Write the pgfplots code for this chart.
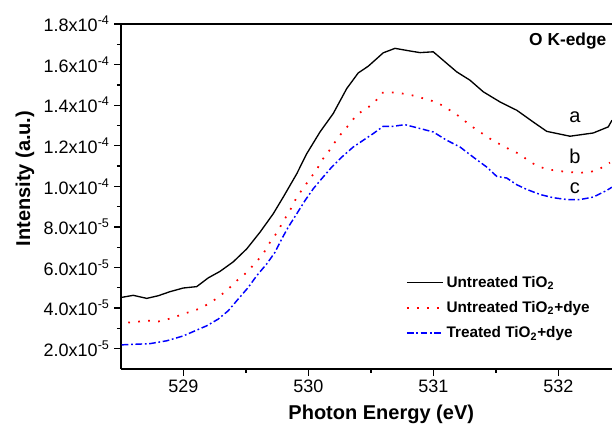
\documentclass[border=0pt]{standalone}
\usepackage{fontspec}
\setmainfont{Liberation Sans}
\usepackage{pgfplots}
\usepackage{pgfplotstable}
\pgfplotsset{compat=1.18}

% Intensity in units of 1e-5 a.u.
\pgfplotstableread{
E I
528.506 4.53
528.598 4.63
528.706 4.48
528.798 4.61
528.892 4.81
528.998 4.99
529.106 5.06
529.198 5.49
529.292 5.81
529.398 6.28
529.506 6.92
529.612 7.74
529.718 8.65
529.798 9.47
529.906 10.62
529.986 11.61
530.092 12.68
530.198 13.59
530.306 14.82
530.398 15.59
530.478 15.92
530.598 16.58
530.692 16.80
530.812 16.67
530.892 16.59
530.998 16.63
531.186 15.64
531.292 15.23
531.398 14.66
531.532 14.16
531.666 13.75
531.798 13.17
531.906 12.71
532.092 12.47
532.278 12.63
532.398 12.93
532.428 13.26
}\dataA

\pgfplotstableread{
E I
528.558 3.29
528.652 3.34
528.732 3.38
528.798 3.34
528.878 3.46
528.958 3.62
529.038 3.79
529.118 3.95
529.198 4.20
529.278 4.53
529.358 4.94
529.426 5.35
529.506 5.76
529.572 6.21
529.638 6.67
529.678 7.12
529.732 7.58
529.780 8.07
529.826 8.56
529.866 8.97
529.906 9.47
529.958 9.91
530.012 10.38
530.066 10.82
530.106 11.28
530.158 11.69
530.212 12.18
530.266 12.63
530.332 13.09
530.386 13.54
530.466 13.84
530.532 14.16
530.586 14.61
530.666 14.63
530.746 14.58
530.826 14.49
530.892 14.38
530.972 14.25
531.052 14.05
531.132 13.75
531.212 13.42
531.292 13.01
531.372 12.68
531.452 12.35
531.532 12.07
531.612 11.81
531.692 11.58
531.772 11.20
531.852 10.95
531.932 10.82
532.012 10.75
532.092 10.70
532.172 10.67
532.252 10.70
532.332 10.87
532.412 11.17
}\dataB

\pgfplotstableread{
E I
528.506 2.19
528.732 2.25
528.866 2.39
528.998 2.63
529.092 2.88
529.186 3.13
529.278 3.46
529.358 3.87
529.438 4.45
529.518 5.02
529.586 5.60
529.666 6.18
529.732 6.75
529.786 7.41
529.838 7.99
529.906 8.65
529.972 9.30
530.038 9.88
530.106 10.38
530.186 10.95
530.266 11.44
530.358 11.94
530.438 12.27
530.518 12.60
530.598 12.96
530.678 12.96
530.772 13.04
530.892 12.85
530.998 12.68
531.106 12.27
531.212 11.94
531.318 11.44
531.426 10.95
531.506 10.49
531.586 10.41
531.666 10.08
531.746 9.85
531.852 9.60
531.958 9.44
532.066 9.35
532.172 9.35
532.278 9.47
532.386 9.80
532.428 9.96
}\dataC

\begin{document}
\begin{tikzpicture}
\begin{axis}[
  name=ax,
  scale only axis,
  width=368.25pt, height=258.75pt,
  xmin=528.5, xmax=532.428,
  ymin=1, ymax=18,
  axis x line*=box, axis y line*=left,
  xtick={529,530,531,532}, xtick pos=bottom,
  minor x tick num=1,
  ytick={2,4,6,8,10,12,14,16,18},
  yticklabels={2.0x10\textsuperscript{-5}, 4.0x10\textsuperscript{-5}, 6.0x10\textsuperscript{-5}, 8.0x10\textsuperscript{-5}, 1.0x10\textsuperscript{-4}, 1.2x10\textsuperscript{-4}, 1.4x10\textsuperscript{-4}, 1.6x10\textsuperscript{-4}, 1.8x10\textsuperscript{-4}},
  minor y tick num=1,
  ytick pos=left,
  tick align=outside,
  major tick length=5pt, minor tick length=3pt,
  every tick/.style={black, line width=1pt},
  axis line style={line width=1.2pt},
  tick label style={font=\fontsize{13.5}{15}\selectfont},
  /pgf/number format/assume math mode=true,
  /pgf/number format/1000 sep={},
  xlabel={Photon Energy (eV)},
  xlabel style={at={(axis description cs:0.53,-0.147)}, anchor=base, font=\bfseries\fontsize{15}{17}\selectfont},
  ylabel={Intensity (a.u.)},
  ylabel style={at={(axis description cs:-0.1853,0.552)}, anchor=base, font=\bfseries\fontsize{15}{17}\selectfont},
  legend style={draw=none, fill=none, at={(0.572,0.285)}, anchor=north west,
    font=\bfseries\fontsize{11.5}{13}\selectfont, row sep=5pt},
  legend cell align=left,
  legend image code/.code={\draw[#1] (0cm,0cm) -- (0.95cm,0cm);},
]
\addplot[black, line width=1pt] table[x=E,y=I] {\dataA};
\addlegendentry{Untreated TiO\textsubscript{2}}
\addplot[red, line width=1.3pt, dash pattern=on 1.3pt off 6.2pt] table[x=E,y=I] {\dataB};
\addlegendentry{Untreated TiO\textsubscript{2}+dye}
\addplot[blue, line width=1.1pt, dash pattern=on 5pt off 2pt on 1.3pt off 2pt] table[x=E,y=I] {\dataC};
\addlegendentry{Treated TiO\textsubscript{2}+dye}
\node[font=\fontsize{15}{17}\selectfont] at (axis cs:532.132,13.41) {a};
\node[font=\fontsize{15}{17}\selectfont] at (axis cs:532.132,11.48) {b};
\node[font=\fontsize{15}{17}\selectfont] at (axis cs:532.132,9.90) {c};
\node[anchor=east, font=\bfseries\fontsize{13}{15}\selectfont] at (axis cs:532.42,17.17) {O K-edge};
\end{axis}
\pgfresetboundingbox
\path[use as bounding box] ([xshift=-90.75pt,yshift=-42pt]ax.south west) rectangle ([yshift=18pt]ax.north east);
\end{tikzpicture}
\end{document}
